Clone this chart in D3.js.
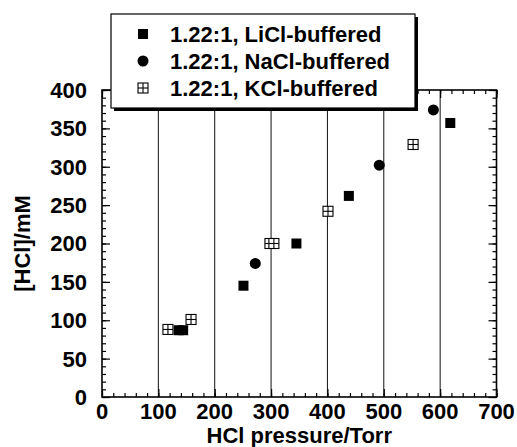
<!DOCTYPE html>
<html>
<head>
<meta charset="utf-8">
<script src="https://cdn.jsdelivr.net/npm/d3@7"></script>
<style>
  body { margin: 0; background: #fff; }
  svg { display: block; }
  text { font-family: "Liberation Sans", Arial, sans-serif; font-weight: bold; fill: #000; }
</style>
</head>
<body>
<svg id="chart" width="517" height="447"></svg>
<script>
// ---- data ----
const seriesNames = ["1.22:1, LiCl-buffered", "1.22:1, NaCl-buffered", "1.22:1, KCl-buffered"];
const liclX = [136, 144, 251, 345, 438, 618];
const liclY = [87, 87, 145, 200, 262, 357];
const naclX = [272, 492, 588];
const naclY = [174, 302, 374];
const kclX = [117, 158, 298, 305, 401, 552];
const kclY = [88, 101, 200, 200, 242, 329];
const xTicks = [0, 100, 200, 300, 400, 500, 600, 700];
const yTicks = [0, 50, 100, 150, 200, 250, 300, 350, 400];
const xTitle = "HCl pressure/Torr";
const yTitle = "[HCl]/mM";

// ---- layout ----
const svg = d3.select("#chart");
const L = 102, R = 496.5, T = 90, B = 397;
const x = d3.scaleLinear().domain([0, 700]).range([L, R]);
const y = d3.scaleLinear().domain([0, 400]).range([B, T]);

// grid lines
svg.append("g").selectAll("line").data(xTicks.filter(d => d > 0 && d < 700)).join("line")
  .attr("x1", d => x(d)).attr("x2", d => x(d)).attr("y1", T).attr("y2", B)
  .attr("stroke", "#111").attr("stroke-width", 1);

// axes with inward ticks
const minorX = d3.range(0, 701, 20);
const minorY = d3.range(0, 401, 10);
function axisG(axis, tx, ty) {
  const g = svg.append("g").attr("transform", `translate(${tx},${ty})`).call(axis);
  g.select(".domain").remove();
  g.selectAll("text").remove();
  g.selectAll("line").attr("stroke", "#000").attr("stroke-width", 1.2);
  return g;
}
// bottom
axisG(d3.axisBottom(x).tickValues(minorX).tickSizeInner(-4).tickSizeOuter(0), 0, B);
axisG(d3.axisBottom(x).tickValues(xTicks).tickSizeInner(-8).tickSizeOuter(0), 0, B);
// top
axisG(d3.axisTop(x).tickValues(minorX).tickSizeInner(-4).tickSizeOuter(0), 0, T);
axisG(d3.axisTop(x).tickValues(xTicks).tickSizeInner(-8).tickSizeOuter(0), 0, T);
// left
axisG(d3.axisLeft(y).tickValues(minorY).tickSizeInner(-4).tickSizeOuter(0), L, 0);
axisG(d3.axisLeft(y).tickValues(yTicks).tickSizeInner(-8).tickSizeOuter(0), L, 0);
// right
axisG(d3.axisRight(y).tickValues(minorY).tickSizeInner(-4).tickSizeOuter(0), R, 0);
axisG(d3.axisRight(y).tickValues(yTicks).tickSizeInner(-8).tickSizeOuter(0), R, 0);

// frame
svg.append("rect").attr("x", L).attr("y", T).attr("width", R - L).attr("height", B - T)
  .attr("fill", "none").attr("stroke", "#000").attr("stroke-width", 1.6);

// tick labels
svg.append("g").selectAll("text").data(xTicks).join("text")
  .attr("x", d => x(d)).attr("y", 419).attr("text-anchor", "middle")
  .attr("font-size", 22).text(d => d);
svg.append("g").selectAll("text").data(yTicks).join("text")
  .attr("x", 87).attr("y", d => y(d)).attr("dy", "0.36em").attr("text-anchor", "end")
  .attr("font-size", 22).text(d => d);

// axis titles
svg.append("text").attr("x", (L + R) / 2).attr("y", 443).attr("text-anchor", "middle")
  .attr("font-size", 22).text(xTitle);
svg.append("text").attr("transform", `translate(30,${(T + B) / 2}) rotate(-90)`)
  .attr("text-anchor", "middle").attr("font-size", 22).text(yTitle);

// markers
function drawSquare(g, cx, cy) {
  g.append("rect").attr("x", cx - 5).attr("y", cy - 5).attr("width", 10).attr("height", 10).attr("fill", "#000");
}
function drawCircle(g, cx, cy) {
  g.append("circle").attr("cx", cx).attr("cy", cy).attr("r", 5.5).attr("fill", "#000");
}
function drawGridSq(g, cx, cy) {
  g.append("rect").attr("x", cx - 5).attr("y", cy - 5).attr("width", 10).attr("height", 10)
    .attr("fill", "#fff").attr("stroke", "#000").attr("stroke-width", 1.1);
  g.append("line").attr("x1", cx).attr("x2", cx).attr("y1", cy - 5).attr("y2", cy + 5).attr("stroke", "#000").attr("stroke-width", 1.1);
  g.append("line").attr("x1", cx - 5).attr("x2", cx + 5).attr("y1", cy).attr("y2", cy).attr("stroke", "#000").attr("stroke-width", 1.1);
}
const pts = svg.append("g");
kclX.forEach((v, i) => drawGridSq(pts, x(v), y(kclY[i])));
liclX.forEach((v, i) => drawSquare(pts, x(v), y(liclY[i])));
naclX.forEach((v, i) => drawCircle(pts, x(v), y(naclY[i])));

// legend
const lg = svg.append("g");
lg.append("rect").attr("x", 114).attr("y", 17).attr("width", 304).attr("height", 94).attr("fill", "#000");
lg.append("rect").attr("x", 111).attr("y", 14).attr("width", 304).attr("height", 94)
  .attr("fill", "#fff").attr("stroke", "#000").attr("stroke-width", 1.2);
const legY = [34, 61, 88];
const drawers = [drawSquare, drawCircle, drawGridSq];
seriesNames.forEach((name, i) => {
  drawers[i](lg, 143, legY[i]);
  lg.append("text").attr("x", 170).attr("y", legY[i]).attr("dy", "0.36em")
    .attr("font-size", 22).text(name);
});
</script>
</body>
</html>
